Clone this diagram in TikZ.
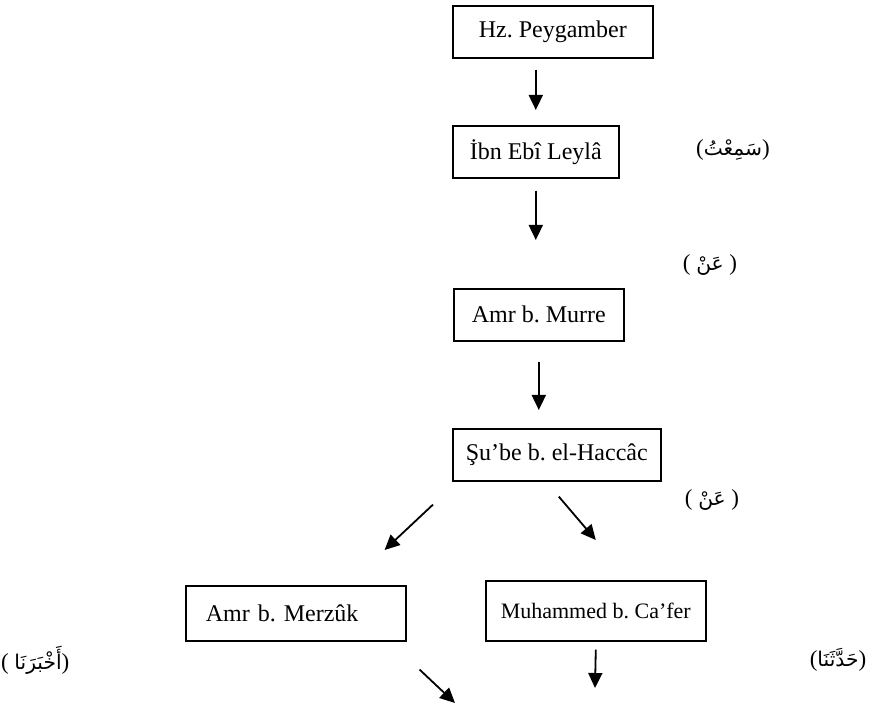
\documentclass[tikz,border=0pt]{standalone}
\usepackage{fontspec}
\setmainfont{Liberation Serif}
\newfontfamily\arabicfont[Script=Arabic,Scale=0.88]{DejaVu Sans}
\TeXXeTstate=1
\frenchspacing
\usetikzlibrary{arrows.meta}
\newcommand{\sigharv}[1]{{\arabicfont\beginR #1\endR}}

\tikzset{
  ravi/.style={draw, line width=0.8pt, anchor=north west, minimum height=26pt,
    minimum width=#1, inner xsep=6pt, font=\fontsize{12}{14}\selectfont},
  sigha/.style={font=\fontsize{11.5}{14}\selectfont},
  isnad/.style={-{Triangle[length=7.5pt,width=7pt]}, line width=0.9pt},
}

\begin{document}
\begin{tikzpicture}[x=0.5pt,y=-0.5pt]
\useasboundingbox (0,0) rectangle (880,706);
% the chain of narrators
\node[ravi=100pt] (nebi) at (452,5) {Hz. Peygamber};
\node[ravi=83pt] (ibn) at (452,125) {İbn Ebî Leylâ};
\node[ravi=85pt] (amr) at (453,288) {Amr b. Murre};
\node[ravi=104pt] (shuba) at (452,428) {Şu’be b. el-Haccâc};
\node[ravi=110pt, minimum height=27.5pt, text width=90pt, inner xsep=10pt,
  align=left] (merzuk) at (185,585) {Amr b. Merzûk};
\node[ravi=110pt, inner xsep=4pt, minimum height=30pt,
  font=\fontsize{11}{14}\selectfont] (cafer) at (485,580) {Muhammed b. Ca’fer};
% transmission words
\node[sigha] (semitu) at (733,150) {(\sigharv{سَمِعْتُ})};
\node[sigha] (an1) at (710,265) {( \sigharv{عَنْ} )};
\node[sigha] (an2) at (712,500) {( \sigharv{عَنْ} )};
\node[sigha, anchor=west] (ahberana) at (-6,660) {( \sigharv{أَخْبَرَنَا})};
\node[sigha] (haddesena) at (838,660) {(\sigharv{حَدَّثَنَا})};
\coordinate (uc1) at (455,703);
\coordinate (uc2) at (595,688);
% arrows
\draw[isnad, shorten <=5.5pt, shorten >=7.5pt] (nebi.south -| ibn) -- (ibn.north);
\draw[isnad, shorten <=6pt, shorten >=24pt] (ibn.south) -- (ibn.south |- amr.north);
\draw[isnad, shorten <=10pt, shorten >=9pt] (amr.south) -- (amr.south |- shuba.north);
\draw[isnad] ([shift={(-19,23)}]shuba.south west) -- ([shift={(-22,-35)}]merzuk.north east);
\draw[isnad] ([shift={(2,15)}]shuba.south) -- ([shift={(0,-40)}]cafer.north);
\draw[isnad] ([shift={(13,28)}]merzuk.south east) -- (uc1);
\draw[isnad] ([shift={(0,8)}]cafer.south) -- (uc2);
\end{tikzpicture}
\end{document}
